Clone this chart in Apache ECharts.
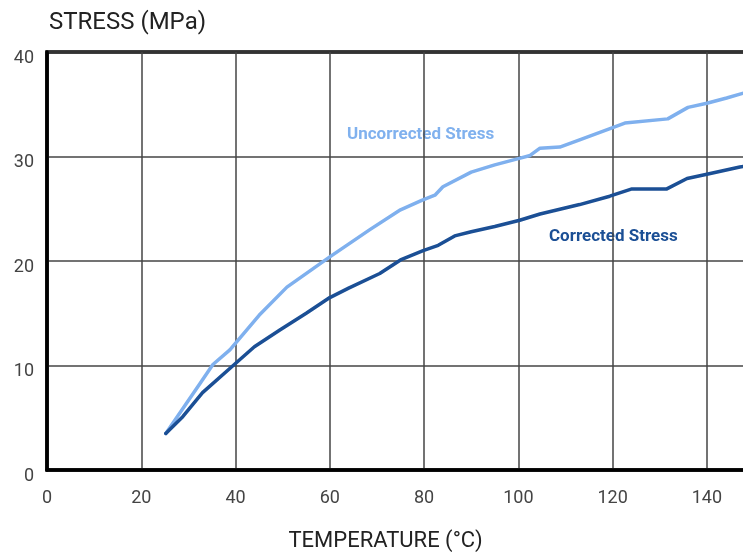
<!DOCTYPE html>
<html>
<head>
<meta charset="utf-8">
<script src="https://cdn.jsdelivr.net/npm/echarts@6/dist/echarts.min.js"></script>
<style>html,body{margin:0;padding:0;background:#fff;}#c{width:743px;height:553px;}</style>
</head>
<body>
<div id="c"></div>
<script>
const yTitle = 'STRESS (MPa)';
const xTitle = 'TEMPERATURE (°C)';
const uncorrectedName = 'Uncorrected Stress';
const correctedName = 'Corrected Stress';

const uncorrectedX = [25.2,32.5,35.2,38.8,45,50.9,60,68.5,75,79.5,82.3,84,90,95,100,102.5,104.6,108.8,113,117.3,122.6,131.7,136,140,144.2,148,150];
const uncorrectedY = [3.5,8.3,10.1,11.5,14.8,17.5,20.4,23,24.9,25.8,26.3,27.1,28.5,29.2,29.8,30.1,30.8,30.9,31.6,32.3,33.2,33.6,34.7,35.1,35.6,36.1,36.3];

const correctedX = [25.2,28.8,33,39.5,44,49.4,55,60,64,70.6,75,79.8,83,86.5,90,95,100.3,104.6,113,119.4,124.1,131.5,135.8,140,147,150];
const correctedY = [3.5,5.1,7.4,10,11.8,13.4,15,16.5,17.4,18.8,20.1,21,21.5,22.4,22.8,23.3,23.9,24.5,25.4,26.2,26.9,26.9,27.9,28.3,29,29.2];

const zip = (xs, ys) => xs.map((x, i) => [x, ys[i]]);

const chart = echarts.init(document.getElementById('c'));
chart.setOption({
  animation: false,
  backgroundColor: '#fff',
  textStyle: { fontFamily: 'Roboto' },
  grid: { left: 47, top: 52, width: 707, height: 418, outerBoundsMode: 'none', containLabel: false,
          show: true, borderColor: '#000', borderWidth: 3.5, backgroundColor: 'transparent' },
  title: { text: yTitle, left: 44, top: 6, textStyle: { fontFamily: 'Roboto', fontSize: 24, fontWeight: 'normal', color: '#222' } },
  xAxis: {
    type: 'value', min: 0, max: 150, interval: 20,
    name: xTitle, nameLocation: 'middle', nameGap: 60,
    nameTextStyle: { fontFamily: 'Roboto', fontSize: 22, color: '#222', padding: [0, 0, 0, -30] },
    axisLine: { show: true, lineStyle: { color: '#000', width: 3.5 } },
    axisTick: { show: false },
    axisLabel: { margin: 19, fontSize: 18, color: '#444', showMaxLabel: false, fontFamily: 'Roboto' },
    splitLine: { show: true, lineStyle: { color: '#444', width: 1.5 } }
  },
  yAxis: {
    type: 'value', min: 0, max: 40, interval: 10,
    axisLine: { show: true, lineStyle: { color: '#000', width: 3.5 } },
    axisTick: { show: false },
    axisLabel: { margin: 13, fontSize: 18, color: '#444', fontFamily: 'Roboto', verticalAlign: 'top', lineHeight: 12 },
    splitLine: { show: true, lineStyle: { color: '#444', width: 1.5 } }
  },
  series: [
    { name: uncorrectedName, type: 'line', data: zip(uncorrectedX, uncorrectedY), showSymbol: false, smooth: false,
      lineStyle: { color: '#7fb0ee', width: 3.5, cap: 'round', join: 'round' }, z: 3 },
    { name: correctedName, type: 'line', data: zip(correctedX, correctedY), showSymbol: false, smooth: false,
      lineStyle: { color: '#1b4f95', width: 3.5, cap: 'round', join: 'round' }, z: 4 }
  ],
  graphic: [
    { type: 'text', left: 347, top: 126, style: { text: uncorrectedName, fill: '#80b1ee', font: 'bold 17px Roboto' } },
    { type: 'text', left: 549, top: 228, style: { text: correctedName, fill: '#1b4f95', font: 'bold 17px Roboto' } }
  ]
});
</script>
</body>
</html>
